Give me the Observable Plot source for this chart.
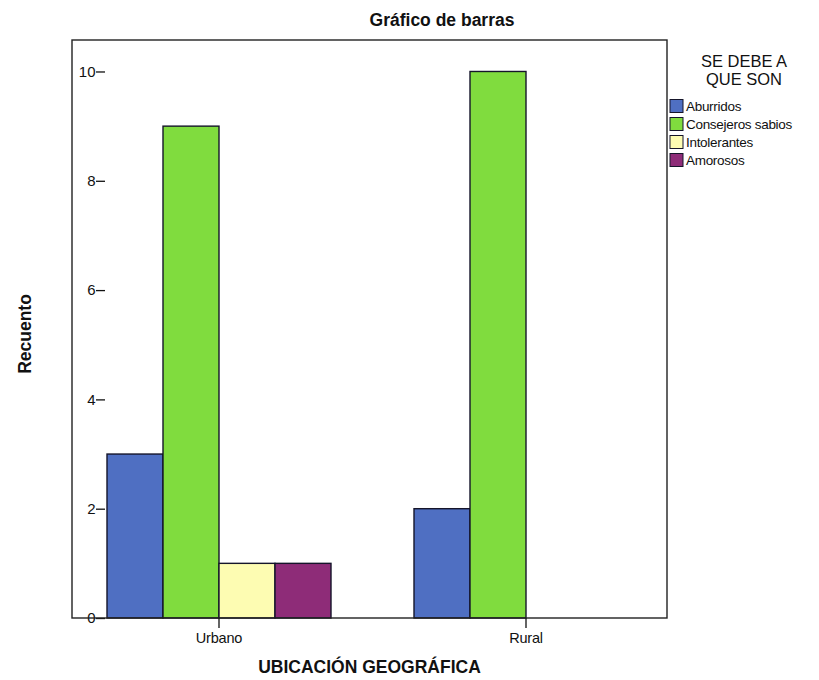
<!DOCTYPE html>
<html>
<head>
<meta charset="utf-8">
<script src="https://cdn.jsdelivr.net/npm/d3@7"></script>
<script src="https://cdn.jsdelivr.net/npm/@observablehq/plot@0.6"></script>
<style>
  html, body { margin: 0; padding: 0; background: #fff; }
  #chart { width: 819px; height: 680px; }
  svg { font-family: "Liberation Sans", Arial, sans-serif; }
</style>
</head>
<body>
<div id="chart"></div>
<script>
const ubicaciones = ["Urbano", "Rural"];
const motivos = ["Aburridos", "Consejeros sabios", "Intolerantes", "Amorosos"];
const recuentoUrbano = [3, 9, 1, 1];
const recuentoRural = [2, 10, 0, 0];
const yTicks = [0, 2, 4, 6, 8, 10];
const colores = ["#4f6fc2", "#80dc3e", "#fdfcb2", "#8e2c78"];
const titulo = "Gráfico de barras";
const tituloX = "UBICACIÓN GEOGRÁFICA";
const tituloY = "Recuento";
const tituloLeyenda = ["SE DEBE A", "QUE SON"];

const datos = [];
motivos.forEach((m, i) => datos.push({ubicacion: "Urbano", motivo: m, recuento: recuentoUrbano[i]}));
motivos.forEach((m, i) => datos.push({ubicacion: "Rural", motivo: m, recuento: recuentoRural[i]}));

const chart = Plot.plot({
  width: 819,
  height: 680,
  marginLeft: 72,
  marginTop: 40,
  marginRight: 152,
  marginBottom: 62,
  style: {fontFamily: "'Liberation Sans', Arial, sans-serif", color: "#111", background: "#fff"},
  fx: {domain: ubicaciones, paddingInner: 0.26, paddingOuter: 0.096, align: 0.54, label: null, axis: null},
  x: {domain: motivos, padding: 0, axis: null},
  y: {domain: [0, 10.576], label: null, axis: null},
  color: {domain: motivos, range: colores},
  marks: [
    Plot.barY(datos, {
      fx: "ubicacion", x: "motivo", y: "recuento", fill: "motivo",
      stroke: "#15152a", strokeWidth: 1.4,
      filter: d => d.recuento > 0
    }),
    Plot.axisY({ticks: yTicks, tickSize: 9, tickPadding: 1, fontSize: 15, label: null, stroke: "#111", strokeWidth: 1.3}),
    Plot.axisFx({anchor: "bottom", tickSize: 10, tickPadding: 4, fontSize: 14.5, label: null, stroke: "#111", strokeWidth: 1.3})
  ]
});

document.getElementById("chart").appendChild(chart);

const svg = d3.select(chart);

// enforce tick label sizes
svg.selectAll('g[aria-label="y-axis tick label"]').attr("font-size", 15).selectAll("text").attr("font-size", 15);
svg.selectAll("text")
  .filter(function () { return ubicaciones.includes(this.textContent); })
  .attr("font-size", 14.5)
  .attr("letter-spacing", -0.2);

const fx = chart.scale("fx");
const y = chart.scale("y");
const color = chart.scale("color");
const x0 = fx.range[0], x1 = fx.range[1];
const yTop = Math.min(...y.range), yBot = Math.max(...y.range);

// plot frame
svg.append("rect")
  .attr("x", x0).attr("y", yTop)
  .attr("width", x1 - x0).attr("height", yBot - yTop)
  .attr("fill", "none").attr("stroke", "#222").attr("stroke-width", 1.4);

// title
svg.append("text").text(titulo)
  .attr("x", 442).attr("y", 26)
  .attr("text-anchor", "middle")
  .attr("font-weight", "bold").attr("font-size", 17.5).attr("fill", "#111");

// x axis title
svg.append("text").text(tituloX)
  .attr("x", (x0 + x1) / 2).attr("y", 673)
  .attr("text-anchor", "middle")
  .attr("font-weight", "bold").attr("font-size", 17.5).attr("fill", "#111");

// y axis title
svg.append("text").text(tituloY)
  .attr("transform", `translate(31, ${(yTop + yBot) / 2 + 5}) rotate(-90)`)
  .attr("text-anchor", "middle")
  .attr("font-weight", "bold").attr("font-size", 17.5).attr("fill", "#111");

// legend
const lg = svg.append("g");
tituloLeyenda.forEach((t, i) => {
  lg.append("text").text(t)
    .attr("x", 744).attr("y", 67 + i * 18)
    .attr("text-anchor", "middle")
    .attr("font-size", 16.5).attr("fill", "#111");
});
motivos.forEach((m, i) => {
  const cy = 106 + i * 18;
  lg.append("rect")
    .attr("x", 670).attr("y", cy - 6.5)
    .attr("width", 13).attr("height", 13)
    .attr("fill", color.apply(m))
    .attr("stroke", "#15152a").attr("stroke-width", 1);
  lg.append("text").text(m)
    .attr("x", 686).attr("y", cy + 5)
    .attr("text-anchor", "start")
    .attr("font-size", 13.5).attr("fill", "#111")
    .attr("letter-spacing", -0.3);
});
</script>
</body>
</html>
